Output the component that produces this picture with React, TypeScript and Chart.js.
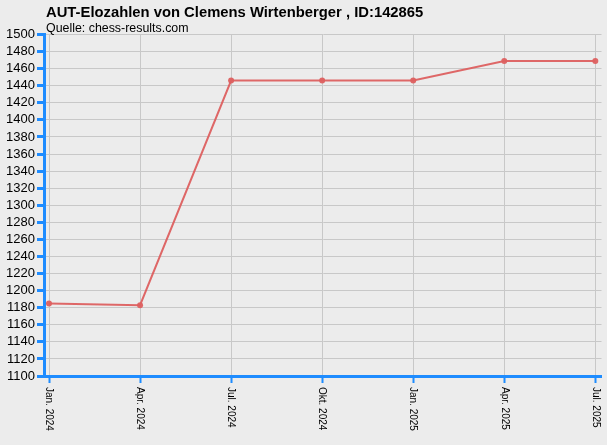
import React, { useEffect, useRef } from "react";
import { Chart, registerables } from "chart.js";

Chart.register(...registerables);

const categories = ["Jan. 2024", "Apr. 2024", "Jul. 2024", "Okt. 2024", "Jan. 2025", "Apr. 2025", "Jul. 2025"];
const eloValues = [1185, 1183, 1446, 1446, 1446, 1469, 1469];
const titleText = "AUT-Elozahlen von Clemens Wirtenberger , ID:142865";
const subtitleText = "Quelle: chess-results.com";
const yMin = 1100;
const yMax = 1500;
const yStep = 20;

const BLUE = "#1E8CFF";
const GRID = "#C8C8C8";
const LINE = "rgba(221,96,96,0.95)";
const FONT = "'Liberation Sans', Arial, sans-serif";

export default function App() {
  const canvasRef = useRef<HTMLCanvasElement | null>(null);

  useEffect(() => {
    document.body.style.margin = "0";
    const canvas = canvasRef.current;
    if (!canvas) return;

    const labelPlugin = {
      id: "customText",
      afterDraw(chart: any) {
        const ctx = chart.ctx as CanvasRenderingContext2D;
        ctx.save();
        ctx.fillStyle = "#000";
        ctx.textAlign = "left";
        ctx.textBaseline = "alphabetic";
        ctx.font = `bold 14.8px ${FONT}`;
        ctx.fillText(titleText, 46, 16.5);
        ctx.font = `12.4px ${FONT}`;
        ctx.fillText(subtitleText, 46, 31.5);

        const xs = chart.scales.x;
        const top = chart.chartArea.bottom + 11;
        ctx.font = `10px ${FONT}`;
        ctx.textBaseline = "middle";
        categories.forEach((lab, i) => {
          const px = xs.getPixelForValue(i);
          ctx.save();
          ctx.translate(px, top);
          ctx.rotate(Math.PI / 2);
          ctx.fillText(lab, 0, 0);
          ctx.restore();
        });
        ctx.restore();
      },
    };

    const chart = new Chart(canvas, {
      type: "line",
      data: {
        datasets: [
          {
            data: eloValues.map((v, i) => ({ x: i, y: v })),
            borderColor: LINE,
            backgroundColor: LINE,
            borderWidth: 2,
            pointRadius: 3,
            pointBorderWidth: 0,
            pointBackgroundColor: LINE,
            tension: 0,
          },
        ],
      },
      options: {
        animation: false,
        responsive: false,
        maintainAspectRatio: false,
        layout: { padding: { top: 34.5, right: 5.5, left: 0, bottom: 0 } },
        plugins: {
          legend: { display: false },
          title: { display: false },
          tooltip: { enabled: false },
        },
        scales: {
          x: {
            type: "linear",
            min: -0.055,
            max: 6.068,
            afterBuildTicks: (scale: any) => {
              scale.ticks = categories.map((_, i) => ({ value: i }));
            },
            afterFit: (scale: any) => {
              scale.height = 69;
            },
            ticks: { display: false },
            grid: {
              color: GRID,
              lineWidth: 1,
              drawTicks: true,
              tickLength: 7,
              tickColor: BLUE,
              tickWidth: 2,
            },
            border: { color: BLUE, width: 3 },
          },
          y: {
            min: yMin,
            max: yMax,
            afterFit: (scale: any) => {
              scale.width = 44;
            },
            ticks: {
              stepSize: yStep,
              autoSkip: false,
              color: "#000",
              font: { family: FONT, size: 13 },
              padding: 2,
              callback: (v: any) => String(v),
            },
            grid: {
              color: GRID,
              lineWidth: 1,
              tickLength: 7,
              tickColor: BLUE,
              tickWidth: 3,
            },
            border: { color: BLUE, width: 3 },
          },
        },
      },
      plugins: [labelPlugin],
    });

    return () => chart.destroy();
  }, []);

  return (
    <div style={{ width: 607, height: 445, background: "#ECECEC" }}>
      <canvas ref={canvasRef} width={607} height={445} style={{ display: "block" }} />
    </div>
  );
}
